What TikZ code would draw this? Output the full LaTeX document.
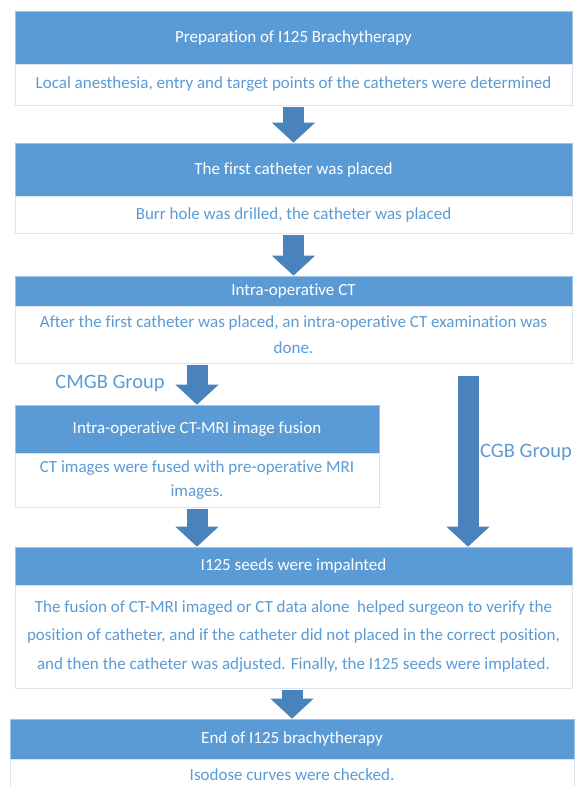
\documentclass[tikz,border=0pt]{standalone}
\usepackage{fontspec}
\setmainfont{Carlito}[Ligatures=NoCommon]
\usetikzlibrary{arrows.meta}
\definecolor{hdrblue}{HTML}{5B9BD5}
\definecolor{txtblue}{HTML}{5B9BD5}
\definecolor{arrblue}{HTML}{4A82BC}
\definecolor{bodyline}{HTML}{DCE4EE}
\begin{document}
\begin{tikzpicture}[x=1pt,y=-1pt,
  hdr/.style={rectangle, fill=hdrblue, draw=hdrblue!60, line width=0.6pt, text=white,
    inner sep=0pt, font=\fontsize{17}{20}\selectfont, align=center},
  bodybox/.style={rectangle, fill=white, draw=bodyline, line width=0.8pt, text=txtblue,
    inner sep=0pt, font=\fontsize{17}{26}\selectfont, align=center},
  bigarrow/.style={draw=arrblue, line width=21pt, shorten <=2pt,
    -{Triangle[length=20pt,width=42pt]}},
  grouplabel/.style={text=txtblue, font=\fontsize{20.5}{24}\selectfont, inner sep=0pt}]
\useasboundingbox (0,0) rectangle (574,786);
% Box 1
\node[hdr, minimum width=557pt, minimum height=53pt] (h1) at (293.5,37.5) {Preparation of I125 Brachytherapy};
\node[bodybox, minimum width=557pt, minimum height=41pt] (b1) at (293.5,84.5) {Local anesthesia, entry and target points of the catheters were determined};
% Box 2
\node[hdr, minimum width=557pt, minimum height=53pt] (h2) at (293.5,169.5) {The first catheter was placed};
\node[bodybox, minimum width=557pt, minimum height=37pt] (b2) at (293.5,214.5) {Burr hole was drilled, the catheter was placed};
% Box 3
\node[hdr, minimum width=557pt, minimum height=30pt] (h3) at (293.5,291) {Intra-operative CT};
\node[bodybox, minimum width=557pt, minimum height=57pt] (b3) at (293.5,334.5) {After the first catheter was placed, an intra-operative CT examination was\\done.};
% Box 4
\node[hdr, minimum width=364pt, minimum height=48pt] (h4) at (197,429) {Intra-operative CT-MRI image fusion};
\node[bodybox, minimum width=364pt, minimum height=54pt, font=\fontsize{17}{24}\selectfont] (b4) at (197,480) {CT images were fused with pre-operative MRI\\images.};
% Box 5
\node[hdr, minimum width=557pt, minimum height=38pt] (h5) at (293.5,566) {I125 seeds were impalnted};
\node[bodybox, minimum width=557pt, minimum height=103pt, font=\fontsize{17}{28.5}\selectfont] (b5) at (293.5,636.5) {The fusion of CT-MRI imaged or CT data alone\ \ helped surgeon to verify the\\position of catheter, and if the catheter did not placed in the correct position,\\and then the catheter was adjusted. Finally, the I125 seeds were implated.};
% Box 6
\node[hdr, minimum width=564pt, minimum height=40pt] (h6) at (292,739) {End of I125 brachytherapy};
\node[bodybox, minimum width=564pt, minimum height=30pt, anchor=north] (b6) at (h6.south) {Isodose curves were checked.};
% labels
\node[grouplabel] (cmgb) at (110,383) {CMGB Group};
\node[grouplabel] (cgb) at (526,452) {CGB Group};
\coordinate (cgbtop) at (468,376);
% arrows
\draw[bigarrow] (b1.south) -- (h2.north);
\draw[bigarrow] (b2.south) -- (h3.north);
\draw[bigarrow] (b3.south -| h4.north) -- (h4.north);
\draw[bigarrow] (b4.south) -- (b4.south |- h5.north);
\draw[bigarrow, shorten <=0pt] (cgbtop) -- (cgbtop |- h5.north);
\draw[bigarrow] (b5.south -| h6.north) -- (h6.north);
\end{tikzpicture}
\end{document}
